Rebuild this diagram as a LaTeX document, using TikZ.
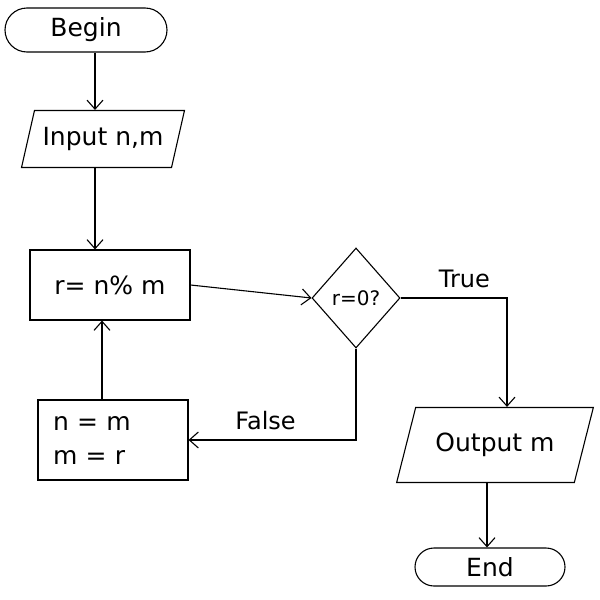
\documentclass[tikz,border=0pt]{standalone}
\usepackage{fontspec}
\setmainfont{DejaVu Sans}
\usetikzlibrary{shapes.geometric,shapes.misc,arrows.meta}
\begin{document}
\begin{tikzpicture}[x=1pt,y=-1pt,
  every node/.style={font=\fontsize{25}{34}\selectfont},
  ln/.style={line width=1.1pt, black},
  term/.style={ln, draw, rounded rectangle, inner sep=0pt},
  proc/.style={ln, draw, rectangle, inner sep=0pt},
  io/.style={ln, draw, trapezium, trapezium stretches=true, inner sep=0pt},
  dec/.style={ln, draw, diamond, inner sep=0pt},
  arr/.style={ln, -{Straight Barb[length=9pt,width=16pt,line width=1.1pt]}},
  lbl/.style={font=\fontsize{24}{28}\selectfont}
]
\useasboundingbox (0,0) rectangle (600,600);
\node[term, minimum width=162, minimum height=44] (begin) at (86,30) {Begin};
\node[io, minimum width=163, minimum height=57, trapezium left angle=64, trapezium right angle=116] (input) at (103,139) {Input n,m};
\node[proc, minimum width=160, minimum height=70] (calc) at (110,285) {r= n\% m};
\node[dec, minimum width=88, minimum height=100, font=\fontsize{20}{22}\selectfont] (test) at (356,298) {r=0?};
\node[io, minimum width=197, minimum height=75, trapezium left angle=59, trapezium right angle=121] (out) at (495,445) {Output m};
\node[term, minimum width=150, minimum height=38] (end) at (490,567) {End};
\node[proc, minimum width=150, minimum height=80, align=left, text width=120] (upd) at (113,440) {n = m\\m = r};

\draw[arr] ([xshift=9pt]begin.south) coordinate (a1) -- (a1 |- input.north);
\draw[arr] ([xshift=-8pt]input.south) coordinate (a2) -- (a2 |- calc.north);
\draw[arr] (calc.east) -- (test.west);
\draw[arr] (test.east) -| ([xshift=12pt]out.north) node[lbl, pos=0.3, above=6pt] {True};
\draw[arr] ([xshift=-8pt]out.south) coordinate (a3) -- (a3 |- end.north);
\draw[arr] (test.south) |- (upd.east) node[lbl, pos=0.77, above=6pt] {False};
\draw[arr] ([xshift=-11pt]upd.north) coordinate (a4) -- (a4 |- calc.south);
\end{tikzpicture}
\end{document}
